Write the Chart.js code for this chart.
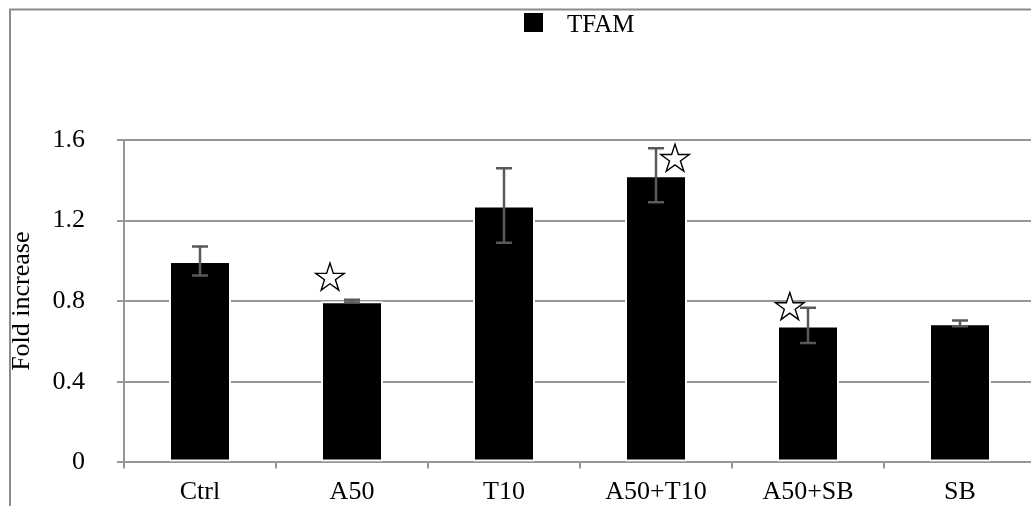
<!DOCTYPE html>
<html>
<head>
<meta charset="utf-8">
<script src="https://cdn.jsdelivr.net/npm/chart.js@4.4.1/dist/chart.umd.min.js"></script>
<style>
  html, body { margin: 0; padding: 0; background: #fff; overflow: hidden; width: 1031px; height: 506px; }
  #wrap { position: absolute; left: 0; top: 0; width: 1036px; height: 510px; }
</style>
</head>
<body>
<div id="wrap"><canvas id="c" width="1036" height="510"></canvas></div>
<script>
// ---- data ----
const categories = ['Ctrl', 'A50', 'T10', 'A50+T10', 'A50+SB', 'SB'];
const seriesName = 'TFAM';
const values = [1.0, 0.80, 1.275, 1.425, 0.68, 0.69];
const errors = [0.072, 0.007, 0.185, 0.134, 0.087, 0.014];
const yTicks = [0, 0.4, 0.8, 1.2, 1.6];
const axisTitle = 'Fold increase';
// significance stars: position in category units, and height in value units
const starSlots = [0.855, 3.125, 3.88];
const starValues = [0.915, 1.505, 0.769];

// ---- styles ----
const FONT = "'Liberation Serif', 'Times New Roman', serif";
const FS = 26;
const GRID = '#969696';

const framePlugin = {
  id: 'frame',
  beforeDraw(chart) {
    const ctx = chart.ctx;
    ctx.save();
    ctx.strokeStyle = '#8c8c8c';
    ctx.lineWidth = 2;
    ctx.beginPath();
    ctx.moveTo(10, chart.height + 5);
    ctx.lineTo(10, 9.5);
    ctx.lineTo(chart.width + 5, 9.5);
    ctx.stroke();
    // legend
    ctx.fillStyle = '#000';
    ctx.fillRect(524, 13, 19, 19);
    ctx.font = '25px ' + FONT;
    ctx.textBaseline = 'alphabetic';
    ctx.textAlign = 'left';
    ctx.fillText(seriesName, 567, 32);
    ctx.restore();
  }
};

function drawStar(ctx, cx, cy, R) {
  const r = R * 0.382;
  ctx.beginPath();
  for (let i = 0; i < 10; i++) {
    const rad = i % 2 === 0 ? R : r;
    const a = -Math.PI / 2 + i * Math.PI / 5;
    const px = cx + rad * Math.cos(a), py = cy + rad * Math.sin(a);
    if (i === 0) ctx.moveTo(px, py); else ctx.lineTo(px, py);
  }
  ctx.closePath();
  ctx.fillStyle = '#fff';
  ctx.fill();
  ctx.strokeStyle = '#000';
  ctx.lineWidth = 1.4;
  ctx.stroke();
}

const overlayPlugin = {
  id: 'overlay',
  afterDatasetsDraw(chart) {
    const ctx = chart.ctx;
    const xs = chart.scales.x, ys = chart.scales.y;
    const meta = chart.getDatasetMeta(0);
    ctx.save();
    ctx.strokeStyle = '#595959';
    ctx.lineWidth = 2.5;
    meta.data.forEach((bar, i) => {
      const x = bar.x;
      const yHi = ys.getPixelForValue(values[i] + errors[i]);
      const yLo = ys.getPixelForValue(values[i] - errors[i]);
      ctx.beginPath();
      ctx.moveTo(x, yHi); ctx.lineTo(x, yLo);
      ctx.moveTo(x - 8, yHi); ctx.lineTo(x + 8, yHi);
      ctx.moveTo(x - 8, yLo); ctx.lineTo(x + 8, yLo);
      ctx.stroke();
    });
    starSlots.forEach((s, i) => {
      drawStar(ctx, xs.getPixelForValue(s), ys.getPixelForValue(starValues[i]), 15);
    });
    ctx.restore();
  }
};

new Chart(document.getElementById('c'), {
  type: 'bar',
  data: {
    labels: categories,
    datasets: [{
      label: seriesName,
      data: values,
      backgroundColor: '#000',
      borderColor: '#fff',
      borderWidth: 2,
      borderSkipped: false,
      categoryPercentage: 1.0,
      barPercentage: 0.408
    }]
  },
  options: {
    responsive: false,
    animation: false,
    devicePixelRatio: 1,
    layout: { padding: { top: 140, right: 0, bottom: 0, left: 0 } },
    plugins: { legend: { display: false }, tooltip: { enabled: false } },
    scales: {
      x: {
        offset: true,
        grid: { drawOnChartArea: false, color: GRID, lineWidth: 2, tickLength: 6, offset: true },
        border: { color: GRID, width: 2 },
        ticks: { color: '#000', font: { family: FONT, size: FS }, padding: 8, maxRotation: 0 },
        afterFit(scale) { scale.height = 39; }
      },
      y: {
        min: 0, max: 1.6,
        afterBuildTicks(scale) { scale.ticks = yTicks.map(v => ({ value: v })); },
        grid: { color: GRID, lineWidth: 2, tickLength: 7 },
        border: { color: GRID, width: 2 },
        ticks: { color: '#000', font: { family: FONT, size: FS }, padding: 32 },
        title: { display: true, text: axisTitle, color: '#000', font: { family: FONT, size: FS }, padding: { top: 7, bottom: 0 } },
        afterFit(scale) { scale.width = 124; }
      }
    }
  },
  plugins: [framePlugin, overlayPlugin]
});
</script>
</body>
</html>
